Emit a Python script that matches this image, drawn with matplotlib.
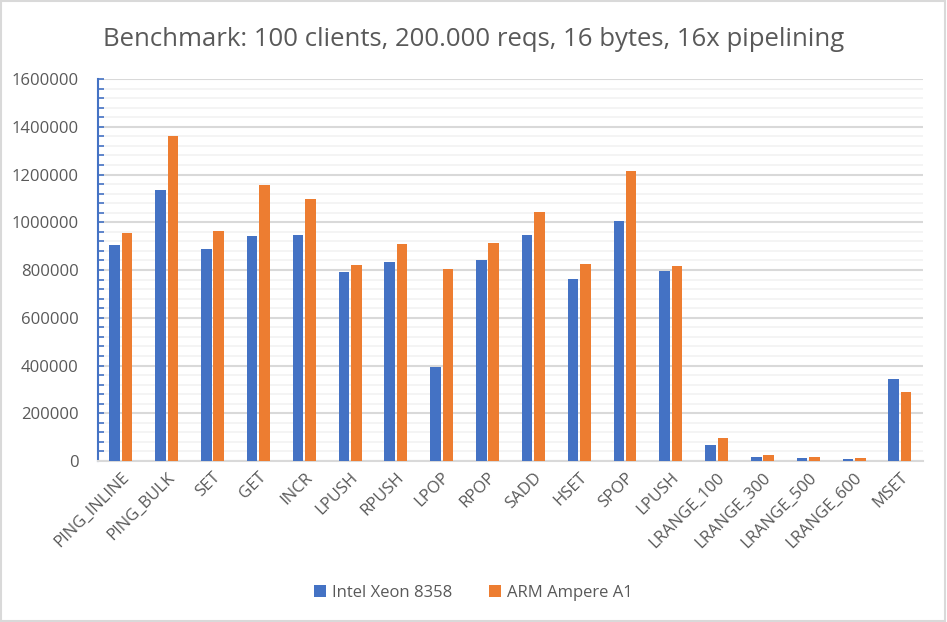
import numpy as np
import matplotlib.pyplot as plt
from matplotlib.ticker import MultipleLocator, FuncFormatter
from matplotlib.patches import Rectangle

categories = ["PING_INLINE", "PING_BULK", "SET", "GET", "INCR", "LPUSH", "RPUSH",
              "LPOP", "RPOP", "SADD", "HSET", "SPOP", "LPUSH", "LRANGE_100",
              "LRANGE_300", "LRANGE_500", "LRANGE_600", "MSET"]
intel = [905000, 1135000, 888000, 942000, 947000, 792000, 834000, 394000, 842000,
         947000, 762000, 1005000, 796000, 67000, 17000, 12600, 8400, 343000]
arm = [955000, 1361000, 963000, 1156000, 1097000, 821000, 909000, 804000, 913000,
       1043000, 825000, 1215000, 817000, 96000, 25000, 17000, 12600, 289000]

plt.rcParams['font.family'] = ['Open Sans', 'DejaVu Sans']
grey = '#595959'

fig = plt.figure(figsize=(9.47, 6.22), dpi=100)
ax = fig.add_axes([0.1035, 0.2588, 0.871, 0.6142])

x = np.arange(len(categories))
w = 0.23
ax.bar(x - w / 2 - 0.02, intel, w, color='#4472c4', label='Intel Xeon 8358', zorder=3)
ax.bar(x + w / 2 + 0.02, arm, w, color='#ed7d31', label='ARM Ampere A1', zorder=3)

ax.set_xlim(-0.5, len(categories) - 0.5)
ax.set_ylim(0, 1600000)
ax.yaxis.set_major_locator(MultipleLocator(200000))
ax.yaxis.set_minor_locator(MultipleLocator(40000))
ax.yaxis.set_major_formatter(FuncFormatter(lambda v, p: f"{int(round(v))}"))
ax.grid(axis='y', which='major', color='#d9d9d9', linewidth=1.5, zorder=0)
ax.grid(axis='y', which='minor', color='#f2f2f2', linewidth=1.2, zorder=0)

for s in ['top', 'right']:
    ax.spines[s].set_visible(False)
ax.spines['left'].set_color('#4472c4')
ax.spines['left'].set_linewidth(1.5)
ax.spines['bottom'].set_color('#d9d9d9')
ax.spines['bottom'].set_linewidth(1.5)

ax.tick_params(axis='y', which='both', direction='in', color='#4472c4', width=1.2,
               labelsize=12, labelcolor=grey, pad=14)
ax.tick_params(axis='y', which='major', length=4)
ax.tick_params(axis='y', which='minor', length=4)
ax.tick_params(axis='x', length=0, labelsize=12, labelcolor=grey, pad=6)
ax.set_xticks(x)
ax.set_xticklabels(categories, rotation=45, ha='right', rotation_mode='anchor')

fig.suptitle("Benchmark: 100 clients, 200.000 reqs, 16 bytes, 16x pipelining",
             x=0.5, y=0.956, fontsize=18.5, color=grey)

fig.legend(loc='lower center', bbox_to_anchor=(0.5, 0.01), ncol=2, frameon=False,
           fontsize=12, labelcolor=grey, handlelength=0.7, handleheight=0.7,
           columnspacing=2.2, handletextpad=0.4)

fig.patches.append(Rectangle((0.001, 0.001), 0.997, 0.997, transform=fig.transFigure,
                             fill=False, edgecolor='#d9d9d9', linewidth=1.5))

plt.savefig("out.png", dpi=100)
